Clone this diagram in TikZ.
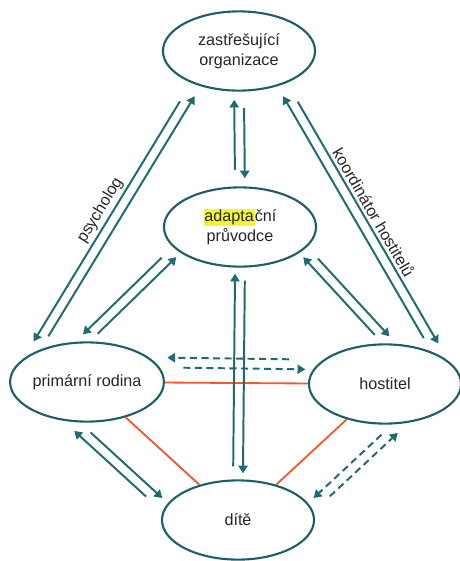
\documentclass[tikz,border=0pt]{standalone}
\usepackage{fontspec}
\setmainfont{Liberation Sans}
\usetikzlibrary{shapes.geometric,arrows.meta,calc}
\definecolor{rimteal}{HTML}{1C5E69}
\definecolor{arrowteal}{HTML}{1E6B73}
\definecolor{linkred}{HTML}{F0592A}
\definecolor{markyellow}{HTML}{F6F531}
\newcommand{\marked}[1]{{\setlength{\fboxsep}{0.6pt}\colorbox{markyellow}{#1}}}
\tikzset{
  bubble/.style={ellipse, draw=rimteal, line width=1.5pt, minimum width=3.8cm,
    minimum height=1.98cm, inner sep=0pt, align=center, text=black!85},
  arr/.style={draw=arrowteal, line width=1.4pt, -{Triangle[length=5.5pt,width=6.5pt]}},
  dasharr/.style={arr, dash pattern=on 5pt off 3.2pt},
  link/.style={draw=linkred, line width=1.3pt},
  lab/.style={text=black!85, inner sep=0pt}
}

\begin{document}
\begin{tikzpicture}[x=0.025cm,y=-0.025cm,font=\fontsize{11.5}{14}\selectfont]
  \useasboundingbox (0,0) rectangle (460,561);
  % the five parties
  \node[bubble] (org) at (239,51) {zastřešující\\organizace};
  \node[bubble] (pruvodce) at (240,227) {\marked{adapta}ční\\průvodce};
  \node[bubble] (rodina) at (87,382) {primární rodina};
  \node[bubble] (hostitel) at (385,384) {hostitel};
  \node[bubble] (dite) at (238,520) {dítě};
  % direct ties
  \draw[link] (rodina) -- (hostitel);
  \draw[link] (rodina) -- (dite);
  \draw[link] (hostitel) -- (dite);
  % solid arrows, one each way
  \foreach \p/\q/\sa/\sb/\tip/\plain in {
      org.218/rodina.152/-90/90/7.5pt/16pt,
      org.322/hostitel.28/90/-90/7.5pt/16pt,
      org.270/pruvodce.90/90/-90/5.7pt/11.7pt,
      pruvodce.270/dite.90/90/-90/4.3pt/9.2pt,
      pruvodce.200/rodina.96/-90/90/3.6pt/11.4pt,
      pruvodce.340/hostitel.84/90/-90/3.6pt/11.4pt,
      rodina.249/dite.170/90/-90/5.7pt/15pt}
  {
    \draw[arr, shorten <=\plain, shorten >=\tip] ($(\p)!3.5pt!\sa:(\q)$) -- ($(\q)!3.5pt!\sb:(\p)$);
    \draw[arr, shorten <=\plain, shorten >=\tip] ($(\q)!3.5pt!\sa:(\p)$) -- ($(\p)!3.5pt!\sb:(\q)$);
  }
  % dashed ones
  \foreach \p/\q/\tip/\plain in {rodina.16/hostitel.164/8.5pt/20pt, dite.10/hostitel.291/5.7pt/15pt}
  {
    \draw[dasharr, shorten <=\plain, shorten >=\tip] ($(\p)!3.5pt!-90:(\q)$) -- ($(\q)!3.5pt!90:(\p)$);
    \draw[dasharr, shorten <=\plain, shorten >=\tip] ($(\q)!3.5pt!-90:(\p)$) -- ($(\p)!3.5pt!90:(\q)$);
  }
  \path (org.218) -- (rodina.152) node[lab, midway, sloped, above=6pt] (psycholog) {psycholog};
  \path (org.322) -- (hostitel.28) node[lab, midway, sloped, above=6pt] (koordinator) {koordinátor hostitelů};
\end{tikzpicture}
\end{document}
